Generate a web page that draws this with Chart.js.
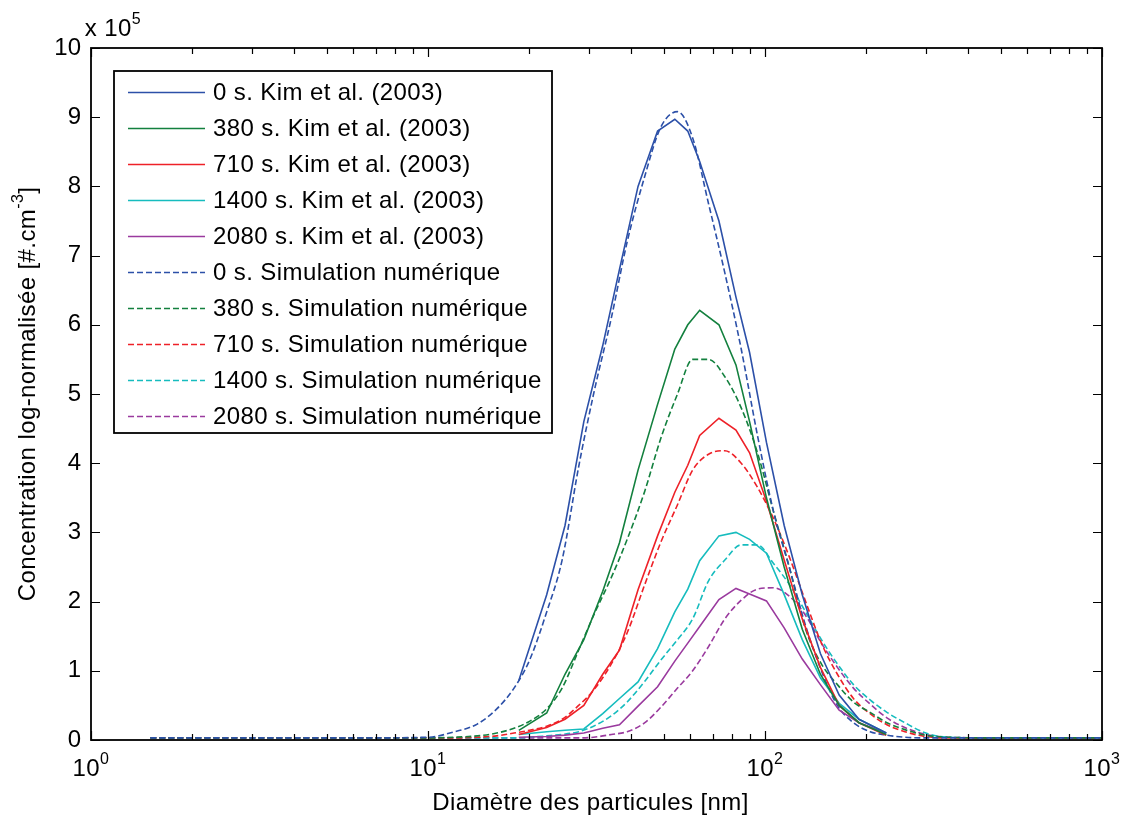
<!DOCTYPE html>
<html>
<head>
<meta charset="utf-8">
<script src="https://cdn.jsdelivr.net/npm/chart.js@4"></script>
<style>
  html, body { margin: 0; padding: 0; background: #fff; }
</style>
</head>
<body>
<canvas id="myChart" width="1124" height="819"></canvas>
<script>
// Diameters [nm]
const kimDiam = [18.6, 22.5, 25.5, 29, 33, 37, 42, 48, 54, 59, 64, 73, 82, 90, 101, 114, 129, 146, 166, 190, 229];
const simDiam = [1.5, 3, 6, 10, 12, 14, 16, 18, 20, 22.5, 25, 28, 31, 35, 39, 44, 49, 55, 61, 68, 76, 85, 95, 106, 118, 132, 147, 164, 183, 205, 230, 260, 300, 350, 500, 1000];

// Concentration (x 10^5) - Kim et al. (2003)
const kim0    = [0.86, 2.1, 3.1, 4.6, 5.7, 6.8, 8.0, 8.8, 8.97, 8.8, 8.36, 7.5, 6.4, 5.6, 4.3, 3.1, 2.1, 1.25, 0.65, 0.3, 0.1];
const kim380  = [0.14, 0.39, 0.95, 1.45, 2.15, 2.85, 3.9, 4.85, 5.65, 6.0, 6.21, 6.0, 5.42, 4.6, 3.5, 2.5, 1.6, 0.95, 0.5, 0.25, 0.08];
const kim710  = [0.08, 0.18, 0.3, 0.5, 0.95, 1.3, 2.17, 2.95, 3.58, 3.97, 4.4, 4.65, 4.48, 4.15, 3.45, 2.6, 1.75, 1.05, 0.5, 0.25, 0.07];
const kim1400 = [0.08, 0.12, 0.14, 0.16, 0.38, 0.6, 0.84, 1.32, 1.85, 2.18, 2.59, 2.95, 3.0, 2.9, 2.7, 2.1, 1.45, 0.9, 0.53, 0.3, 0.1];
const kim2080 = [0.04, 0.05, 0.07, 0.1, 0.17, 0.22, 0.49, 0.77, 1.14, 1.4, 1.64, 2.03, 2.19, 2.11, 2.01, 1.62, 1.17, 0.8, 0.43, 0.25, 0.1];

// Concentration (x 10^5) - simulation numerique
const sim0    = [0.03, 0.03, 0.03, 0.04, 0.12, 0.23, 0.45, 0.75, 1.15, 1.85, 2.6, 3.95, 5.0, 6.1, 7.2, 8.15, 8.85, 9.08, 8.7, 7.75, 6.75, 5.65, 4.4, 3.3, 2.5, 1.65, 1.0, 0.5, 0.25, 0.12, 0.07, 0.04, 0.03, 0.03, 0.03, 0.03];
const sim380  = [0.03, 0.03, 0.03, 0.03, 0.04, 0.06, 0.1, 0.17, 0.27, 0.45, 0.75, 1.3, 1.8, 2.35, 2.9, 3.6, 4.35, 5.0, 5.5, 5.5, 5.25, 4.8, 4.15, 3.3, 2.5, 1.6, 1.1, 0.8, 0.55, 0.4, 0.25, 0.15, 0.07, 0.04, 0.03, 0.03];
const sim710  = [0.03, 0.03, 0.03, 0.03, 0.03, 0.04, 0.06, 0.1, 0.14, 0.2, 0.3, 0.5, 0.72, 1.1, 1.55, 2.25, 2.85, 3.4, 3.9, 4.13, 4.18, 4.0, 3.65, 3.2, 2.65, 2.0, 1.4, 0.95, 0.6, 0.38, 0.22, 0.12, 0.05, 0.03, 0.03, 0.03];
const sim1400 = [0.03, 0.03, 0.03, 0.03, 0.03, 0.03, 0.03, 0.03, 0.04, 0.06, 0.08, 0.12, 0.2, 0.35, 0.55, 0.85, 1.15, 1.45, 1.75, 2.3, 2.6, 2.82, 2.82, 2.55, 2.25, 1.85, 1.45, 1.1, 0.8, 0.58, 0.4, 0.25, 0.1, 0.04, 0.03, 0.03];
const sim2080 = [0.03, 0.03, 0.03, 0.03, 0.03, 0.03, 0.03, 0.03, 0.03, 0.03, 0.03, 0.03, 0.04, 0.08, 0.12, 0.25, 0.47, 0.75, 1.0, 1.35, 1.75, 2.02, 2.18, 2.2, 2.08, 1.8, 1.4, 1.05, 0.75, 0.52, 0.32, 0.18, 0.08, 0.04, 0.03, 0.03];

const times = ['0', '380', '710', '1400', '2080'];
const colors = ['#2c50a8', '#13803e', '#ee2128', '#16bcbe', '#9a3a9e'];

const yTicks = [0, 1, 2, 3, 4, 5, 6, 7, 8, 9, 10];
const xDecades = [1, 10, 100, 1000];
const xDecadeExp = ['0', '1', '2', '3'];

const FONT_FAMILY = "'Liberation Sans', Arial, sans-serif";
const FONT_SIZE = 24;
const LETTER_SP = '0.4px';

function toPoints(xs, ys) {
    return xs.map((d, i) => ({ x: d, y: ys[i] }));
}

const kimSeries = [kim0, kim380, kim710, kim1400, kim2080];
const simSeries = [sim0, sim380, sim710, sim1400, sim2080];

const datasets = [];
kimSeries.forEach((vals, i) => {
    datasets.push({
        label: times[i] + ' s. Kim et al. (2003)',
        data: toPoints(kimDiam, vals),
        borderColor: colors[i],
        borderWidth: 1.6,
        pointRadius: 0,
        tension: 0
    });
});
simSeries.forEach((vals, i) => {
    datasets.push({
        label: times[i] + ' s. Simulation numérique',
        data: toPoints(simDiam, vals),
        borderColor: colors[i],
        borderWidth: 1.6,
        borderDash: [6, 3],
        pointRadius: 0,
        cubicInterpolationMode: 'monotone'
    });
});

// text with superscript parts, centred on x
function drawParts(ctx, parts, x, y, size) {
    const supSize = Math.round(size * 0.68);
    let total = 0;
    parts.forEach(p => {
        ctx.font = (p.sup ? supSize : size) + 'px ' + FONT_FAMILY;
        p.w = ctx.measureText(p.t).width;
        total += p.w;
    });
    let cx = x - total / 2;
    parts.forEach(p => {
        ctx.font = (p.sup ? supSize : size) + 'px ' + FONT_FAMILY;
        ctx.fillText(p.t, cx, p.sup ? y - size * 0.5 : y);
        cx += p.w;
    });
}

const matlabAxes = {
    id: 'matlabAxes',
    afterDraw(chart) {
        const { ctx, chartArea: a, scales: { x, y } } = chart;
        ctx.save();
        ctx.strokeStyle = '#000';
        ctx.fillStyle = '#000';
        ctx.letterSpacing = LETTER_SP;

        // y ticks both sides, inward
        ctx.lineWidth = 1.2;
        ctx.beginPath();
        yTicks.forEach(v => {
            const py = Math.round(y.getPixelForValue(v)) + 0.5;
            ctx.moveTo(a.left, py); ctx.lineTo(a.left + 9, py);
            ctx.moveTo(a.right, py); ctx.lineTo(a.right - 9, py);
        });
        // x ticks, log decades + minor
        xDecades.forEach((dec, k) => {
            for (let m = 1; m <= 9; m++) {
                if (k === xDecades.length - 1 && m > 1) break;
                const px = Math.round(x.getPixelForValue(dec * m)) + 0.5;
                const len = m === 1 ? 9 : 6;
                ctx.moveTo(px, a.bottom); ctx.lineTo(px, a.bottom - len);
                ctx.moveTo(px, a.top); ctx.lineTo(px, a.top + len);
            }
        });
        ctx.stroke();

        // box
        ctx.lineWidth = 1.8;
        ctx.strokeRect(a.left, a.top, a.right - a.left, a.bottom - a.top);

        // x tick labels
        ctx.textBaseline = 'alphabetic';
        ctx.textAlign = 'left';
        xDecades.forEach((dec, k) => {
            drawParts(ctx, [{ t: '10' }, { t: xDecadeExp[k], sup: true }], x.getPixelForValue(dec), 776, FONT_SIZE);
        });

        // multiplier
        drawParts(ctx, [{ t: 'x 10' }, { t: '5', sup: true }], 113, 36, FONT_SIZE);

        // x title
        drawParts(ctx, [{ t: 'Diamètre des particules [nm]' }], (a.left + a.right) / 2 - 6, 810, FONT_SIZE);

        // y title
        ctx.save();
        ctx.translate(35, (a.top + a.bottom) / 2);
        ctx.rotate(-Math.PI / 2);
        drawParts(ctx, [{ t: 'Concentration log-normalisée [#.cm' }, { t: '-3', sup: true }, { t: ']' }], 0, 0, FONT_SIZE);
        ctx.restore();

        ctx.restore();
    }
};

const legendBox = {
    id: 'legendBox',
    afterDraw(chart) {
        const ctx = chart.ctx;
        const x0 = 114, y0 = 71, w = 438, h = 362, rowH = 36;
        ctx.save();
        ctx.fillStyle = '#fff';
        ctx.fillRect(x0, y0, w, h);
        ctx.strokeStyle = '#000';
        ctx.lineWidth = 1.8;
        ctx.strokeRect(x0, y0, w, h);
        ctx.font = FONT_SIZE + 'px ' + FONT_FAMILY;
        ctx.letterSpacing = LETTER_SP;
        ctx.textBaseline = 'middle';
        chart.data.datasets.forEach((ds, i) => {
            const cy = y0 + 21 + i * rowH + 0.5;
            ctx.strokeStyle = ds.borderColor;
            ctx.lineWidth = ds.borderWidth;
            ctx.setLineDash(ds.borderDash || []);
            ctx.beginPath();
            ctx.moveTo(x0 + 14, cy);
            ctx.lineTo(x0 + 91, cy);
            ctx.stroke();
            ctx.setLineDash([]);
            ctx.fillStyle = '#000';
            ctx.fillText(ds.label, x0 + 99, cy + 1);
        });
        ctx.restore();
    }
};

function showChart() {
    const ctx = document.getElementById('myChart').getContext('2d');
    new Chart(ctx, {
        type: 'line',
        data: { datasets: datasets },
        options: {
            responsive: false,
            animation: false,
            devicePixelRatio: 1,
            layout: { padding: { left: 0, right: 22, top: 48, bottom: 0 } },
            plugins: { legend: { display: false }, tooltip: { enabled: false } },
            scales: {
                x: {
                    type: 'logarithmic',
                    min: 1,
                    max: 1000,
                    ticks: { display: false },
                    grid: { display: false, drawTicks: false },
                    border: { display: false },
                    afterFit: (s) => { s.height = 79; }
                },
                y: {
                    min: 0,
                    max: 10,
                    ticks: {
                        stepSize: 1,
                        color: '#000',
                        padding: 10,
                        font: { family: FONT_FAMILY, size: FONT_SIZE }
                    },
                    grid: { display: false, drawTicks: false },
                    border: { display: false },
                    afterFit: (s) => { s.width = 91; }
                }
            }
        },
        plugins: [matlabAxes, legendBox]
    });
}

document.addEventListener('DOMContentLoaded', () => {
    showChart();
});
</script>
</body>
</html>
